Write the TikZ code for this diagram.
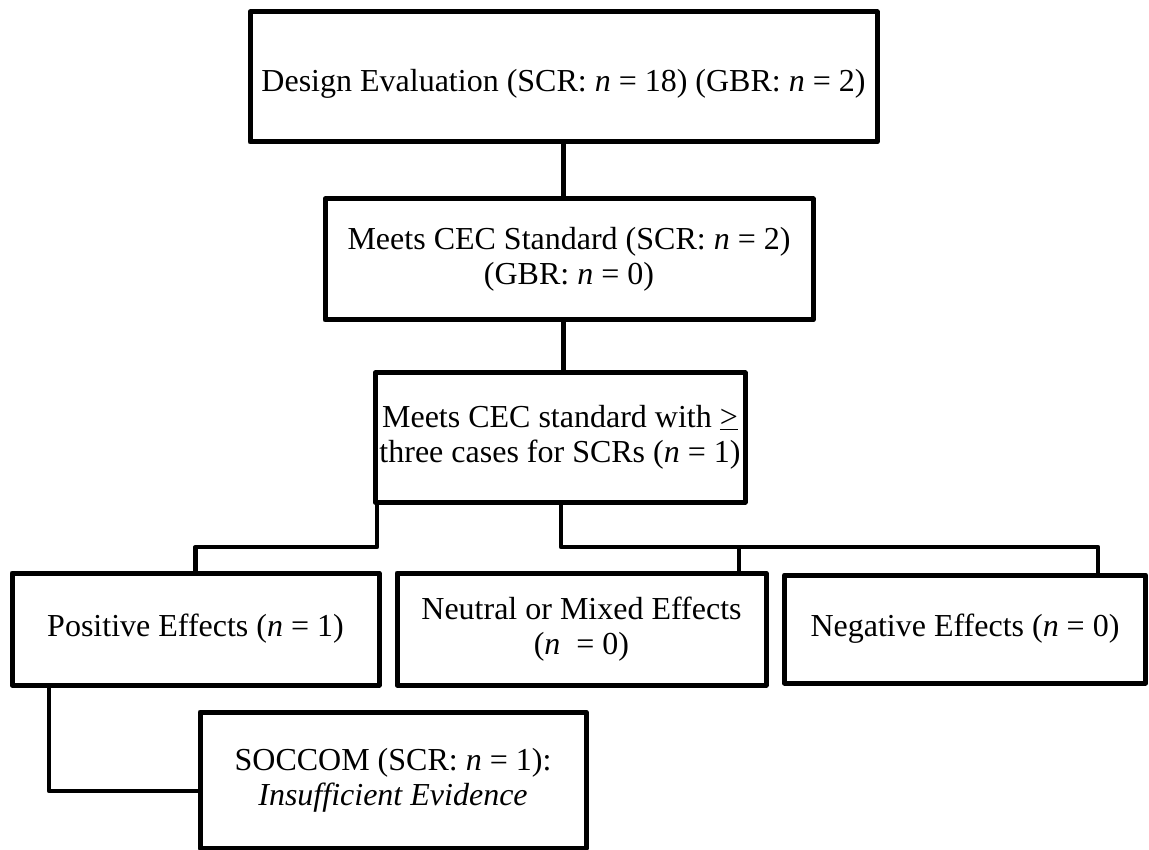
\documentclass[tikz,border=0pt]{standalone}
\usepackage{fontspec}
\setmainfont{Liberation Serif}
\begin{document}
\begin{tikzpicture}[x=1pt,y=-1pt,
  box/.style={draw, line width=5pt, line join=round, inner sep=0pt, align=center,
    font=\fontsize{32}{35}\selectfont},
  conn/.style={line width=4.8pt, line join=round}]
\useasboundingbox (0,0) rectangle (1149,850);
\fill[white] (0,0) rectangle (1149,850);

\node[box, minimum width=627, minimum height=130] (b1) at (563.5,77)
  {\raisebox{-7pt}[\height][\depth]{Design Evaluation (SCR: \textit{n} = 18) (GBR: \textit{n} = 2)}};
\node[box, minimum width=488, minimum height=121] (b2) at (569,259.5)
  {Meets CEC Standard (SCR: \textit{n} = 2)\\(GBR: \textit{n} = 0)};
\node[box, minimum width=370, minimum height=129] (b3) at (560,437.5)
  {Meets CEC standard with \underline{>}\\three cases for SCRs (\textit{n} = 1)};
\node[box, minimum width=367, minimum height=112] (pos) at (195.5,629)
  {Positive Effects (\textit{n} = 1)};
\node[box, minimum width=369, minimum height=112] (neu) at (581.5,629)
  {Neutral or Mixed Effects\\(\textit{n}\ \ = 0)};
\node[box, minimum width=361, minimum height=108] (neg) at (965,629)
  {Negative Effects (\textit{n} = 0)};
\node[box, minimum width=386, minimum height=136] (soc) at (393,780)
  {SOCCOM (SCR: \textit{n} = 1):\\\textit{Insufficient Evidence}};

\coordinate (jl) at (377,547);
\coordinate (jr) at (561,547);
\coordinate (xm) at (739,0);
\coordinate (xn) at (1098,0);
\coordinate (ps) at (49,791);

\draw[conn] (b1.south) -- (b1.south |- b2.north);
\draw[conn] (b2.south -| b1) -- (b3.north -| b1);
\draw[conn] (b3.south -| jl) -- (jl) -| (pos.north);
\draw[conn] (b3.south -| jr) -- (jr) -| (neg.north -| xn);
\draw[conn] (jr -| xm) -- (neu.north -| xm);
\draw[conn] (pos.south -| ps) -- (ps) -- (soc.west |- ps);
\end{tikzpicture}
\end{document}
